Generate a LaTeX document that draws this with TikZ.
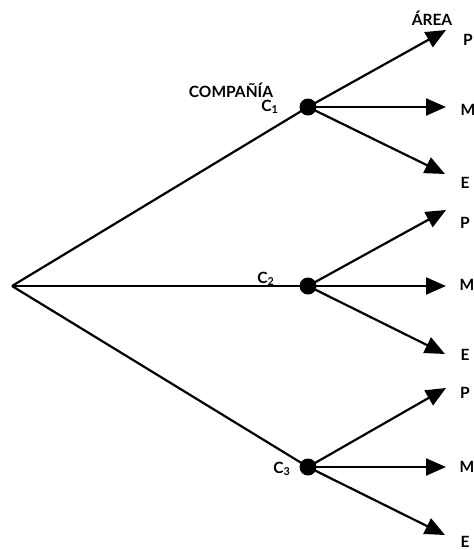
\documentclass[tikz,border=0pt]{standalone}
\usepackage{fontspec}
\setmainfont{Lato}
\usetikzlibrary{arrows.meta}
\tikzstyle{company} = [circle, fill=black, inner sep=0pt, minimum size=17pt]
\tikzstyle{branch} = [line width=2.2pt, -{Triangle[length=20pt,width=17pt]}]
\tikzstyle{stem} = [line width=2.2pt]
\tikzstyle{label} = [font=\bfseries\fontsize{15.5}{17}\selectfont, inner sep=0pt, anchor=base]

\begin{document}
\begin{tikzpicture}[x=1pt, y=-1pt]
    \useasboundingbox (0,0) rectangle (474,550);

    \coordinate (root) at (12,286);

    \node[company] (c1) at (308,107) {};
    \node[company] (c2) at (308,286) {};
    \node[company] (c3) at (308,467) {};

    % arrow tips of the three areas
    \coordinate (p1) at (446,30);
    \coordinate (m1) at (446,107);
    \coordinate (e1) at (445,174);
    \coordinate (p2) at (446,210);
    \coordinate (m2) at (446,286);
    \coordinate (e2) at (445,354);
    \coordinate (p3) at (446,388);
    \coordinate (m3) at (446,467);
    \coordinate (e3) at (445,535);

    \draw [stem] (root) -- (c1.center);
    \draw [stem] (root) -- (c2.center);
    \draw [stem] (root) -- (c3.center);

    \draw [branch] (c1.center) -- (p1);
    \draw [branch] (c1.center) -- (m1);
    \draw [branch] (c1.center) -- (e1);
    \draw [branch] (c2.center) -- (p2);
    \draw [branch] (c2.center) -- (m2);
    \draw [branch] (c2.center) -- (e2);
    \draw [branch] (c3.center) -- (p3);
    \draw [branch] (c3.center) -- (m3);
    \draw [branch] (c3.center) -- (e3);

    % headings and labels (placed by their baseline)
    \node[label] (area) at (432,25) {ÁREA};
    \node[label] (compania) at (231,97) {COMPAÑÍA};
    \node[label] (l1) at (270,111) {C\textsubscript{1}};
    \node[label] (l2) at (266,283) {C\textsubscript{2}};
    \node[label] (l3) at (282,473) {C\textsubscript{3}};

    \node[label] (lp1) at (468,45) {P};
    \node[label] (lm1) at (468,115) {M};
    \node[label] (le1) at (465,188) {E};
    \node[label] (lp2) at (465,228) {P};
    \node[label] (lm2) at (467,290) {M};
    \node[label] (le2) at (465,360) {E};
    \node[label] (lp3) at (465,398) {P};
    \node[label] (lm3) at (467,472) {M};
    \node[label] (le3) at (465,547) {E};
\end{tikzpicture}
\end{document}
